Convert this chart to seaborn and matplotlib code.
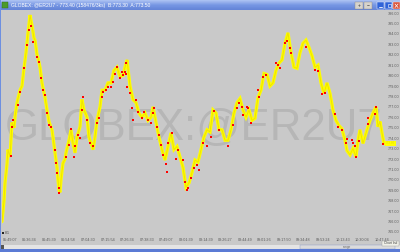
import matplotlib
matplotlib.use("Agg")
import matplotlib.pyplot as plt
import matplotlib.transforms as mtransforms
from matplotlib.patches import Rectangle
from matplotlib.colors import LinearSegmentedColormap
import numpy as np
import pandas as pd
import seaborn as sns

# ---------------- data ----------------
bar = [2, 4, 5, 7, 8, 10, 12, 14, 15, 17, 19, 20, 22, 24, 26, 28, 30, 32, 34, 35,
       37, 38, 40, 42, 44, 45, 47, 49, 50, 52, 53, 55, 57, 58, 59, 60, 61, 63, 65, 66,
       69, 71, 73, 75, 77, 80, 82, 84, 87, 89, 91, 93, 95, 97, 100, 102, 105, 108, 111, 114,
       117, 120, 123, 125, 127, 130, 133, 136, 139, 142, 145, 148, 151, 153, 156, 159, 162, 165, 168, 171,
       174, 177, 180, 183, 186, 189, 192, 195, 198, 201, 204, 207, 210, 213, 216, 219, 222, 225, 228, 231,
       234, 237, 240, 243, 246, 249, 252, 255, 258, 261, 264, 267, 270, 273, 276, 279, 282, 285, 288, 291,
       294, 297, 300, 303, 306, 309, 312, 315, 318, 321, 324, 327, 330, 333, 336, 339, 342, 345, 347, 350,
       353, 356, 358, 360, 363, 367, 370, 373, 376, 378, 380, 382, 384]
price = [766.0, 768.0, 769.7, 771.5, 772.9, 772.2, 775.5, 775.0, 776.0, 777.4, 778.2, 778.6, 779.0, 780.7, 782.2, 784.1, 785.8, 784.8, 783.6, 783.4,
         782.0, 781.7, 780.8, 779.3, 778.4, 777.9, 776.7, 775.6, 775.3, 774.8, 774.1, 772.6, 771.2, 770.0, 769.0, 768.8, 770.0, 771.6, 772.0, 772.6,
         773.8, 774.8, 773.5, 772.6, 774.1, 775.1, 777.7, 776.7, 776.0, 774.1, 773.5, 772.9, 774.1, 775.7, 777.0, 778.6, 778.6, 779.3, 779.3, 780.5,
         780.8, 779.9, 780.0, 780.8, 781.5, 779.0, 777.7, 777.4, 776.4, 776.0, 776.4, 775.7, 776.0, 777.0, 775.5, 774.1, 772.9, 771.9, 773.2, 774.5,
         772.9, 773.2, 772.2, 771.2, 769.3, 769.7, 770.7, 771.9, 771.7, 772.9, 774.1, 774.8, 774.6, 776.7, 776.4, 774.8, 774.8, 773.8, 773.8, 774.8,
         776.4, 777.4, 777.8, 776.7, 776.0, 776.7, 775.7, 775.9, 777.9, 778.6, 780.2, 780.1, 779.0, 779.3, 780.5, 781.2, 781.5, 783.1, 784.1, 782.2,
         780.8, 780.7, 782.2, 783.1, 783.4, 782.7, 781.9, 780.8, 781.0, 779.3, 778.3, 779.3, 778.3, 776.7, 775.7, 775.2, 774.9, 773.8, 772.8, 772.4,
         773.0, 772.2, 773.8, 774.8, 773.5, 774.8, 775.7, 776.4, 777.0, 775.1, 775.6, 774.5, 773.5]

red_bar = [11, 12, 13, 18, 20, 24, 27, 29, 31, 33, 37, 39, 41, 43, 45, 47, 49, 51, 55, 56,
           57, 59, 59, 66, 69, 71, 74, 75, 78, 80, 82, 83, 87, 90, 93, 97, 99, 102, 103, 106,
           108, 111, 113, 115, 117, 120, 123, 125, 127,
           122, 126, 126, 127, 130, 132, 133, 136, 138, 142, 144, 148, 151, 153, 154, 157, 159, 161, 163, 166,
           167, 168, 172, 176, 178, 183, 185, 187, 188, 191, 194, 197, 199, 203, 207, 211, 214, 219, 228, 233,
           237, 239, 243, 248,
           242, 247, 251, 258, 259, 263, 266, 276, 278, 280, 285, 287, 290, 291, 306, 315, 318, 322, 325, 335,
           338, 342, 346, 347, 352, 353, 355, 356, 359, 368, 368, 375, 376, 383]
red_price = [772.3, 775.1, 775.7, 777.2, 778.4, 780.7, 782.9, 784.4, 784.8, 783.2, 781.8, 781.3, 779.8, 778.6, 778.1, 776.4, 775.3, 775.1, 772.9, 771.6,
             770.7, 769.2, 768.7, 772.2, 773.3, 774.9, 772.2, 773.2, 774.3, 774.0, 776.7, 777.9, 775.7, 773.5, 773.2, 775.5, 775.9, 777.9, 778.4, 778.6,
             778.9, 778.9, 779.4, 780.2, 780.8, 779.8, 780.1, 780.3, 778.9,
             780.3, 780.2, 781.2, 778.9, 778.3, 776.9, 775.7, 777.7, 776.5, 775.9, 776.5, 775.7, 775.5, 776.4, 776.9, 775.1, 774.3, 773.3, 772.4, 771.5,
             770.8, 773.5, 774.5, 772.0, 772.9, 771.9, 769.8, 769.0, 769.2, 770.2, 771.1, 771.4, 770.9, 773.5, 773.2, 774.1, 776.6, 774.8, 773.2, 775.3,
             776.9, 777.4, 776.2, 776.9,
             777.0, 777.0, 775.5, 778.6, 777.9, 779.9, 780.1, 781.2, 781.0, 780.7, 783.1, 783.3, 782.6, 782.2, 782.7, 780.5, 780.4, 778.2, 778.3, 776.3,
             775.1, 774.8, 773.5, 773.9, 773.8, 773.5, 773.2, 772.2, 773.7, 775.9, 775.4, 776.3, 777.0, 773.4]

time_labels = ["05:49:07", "06:36:34", "06:45:39", "06:54:58", "07:04:30", "07:15:54", "07:26:34",
               "07:38:33", "07:49:07", "08:01:39", "08:14:39", "08:26:27", "08:44:49", "09:01:26",
               "09:17:50", "09:34:48", "09:53:24", "10:13:43", "10:30:04", "10:47:46"]
price_ticks = list(range(765, 787))
last_price = 773.40
title_text = "GLOBEX: @ER2U7 - 773.40 (158476/3ks)  B:773.30  A:773.50"
watermark = "GLOBEX:@ER2U7"

# ---------------- style ----------------
BG = "#c9c9c9"
W, H = 400, 252
sns.set_style("white")
plt.rcParams["font.family"] = ["Liberation Sans", "DejaVu Sans"]

fig = plt.figure(figsize=(4, 2.52), dpi=100, facecolor=BG)

# main price axes (pixel box: x 2..386, y 10..237)
ax = fig.add_axes([2 / W, (H - 237) / H, 384 / W, 227 / H])
ax.set_facecolor(BG)
for s in ax.spines.values():
    s.set_visible(False)

df = pd.DataFrame({"bar": bar, "price": price})
dr = pd.DataFrame({"bar": red_bar, "price": red_price})

# watermark behind data
ax.text(3 / 384, 0.48, watermark, transform=ax.transAxes, fontsize=31.5,
        color="#b6b6b6", ha="left", va="center", zorder=0)

sns.lineplot(data=df, x="bar", y="price", ax=ax, color="#ffff00", lw=2.3,
             solid_joinstyle="miter", zorder=2, legend=False)
sns.lineplot(data=df, x="bar", y="price", ax=ax, color="#efe200", lw=0.7,
             zorder=2.5, legend=False)
sns.scatterplot(data=dr, x="bar", y="price", ax=ax, color="#ff0000", marker="s",
                s=4.5, linewidth=0, zorder=3, legend=False)

ax.set_xlim(2, 386)
ax.set_ylim(764.52, 786.29)
ax.set_xlabel("")
ax.set_ylabel("")

tick_pos = [10 + 19.57 * i for i in range(len(time_labels))]
ax.set_xticks(tick_pos)
ax.set_xticklabels(time_labels)
ax.set_yticks(price_ticks)
ax.set_yticklabels([f"{v:.2f}" for v in price_ticks])
ax.yaxis.tick_right()
ax.tick_params(axis="both", length=0, labelsize=2.7, colors="#5a5a5a")
ax.tick_params(axis="y", pad=1.2)
ax.tick_params(axis="x", pad=1.0)

# last price marker (small yellow tag on the price scale)
trans = mtransforms.blended_transform_factory(ax.transAxes, ax.transData)
ax.text(1.0, last_price + 0.1, f"{last_price:.2f}", transform=trans, fontsize=2.2,
        color="#e8e000", ha="left", va="center", clip_on=False, zorder=5,
        bbox=dict(boxstyle="square,pad=0.25", fc="#ffff00", ec="none"))

# overlay decorations in pixel coordinates
ov = fig.add_axes([0, 0, 1, 1], zorder=10)
ov.set_xlim(0, W)
ov.set_ylim(H, 0)
ov.axis("off")
ov.patch.set_alpha(0)

# title bar gradient
grad = np.linspace(0, 1, 10)[:, None]
cmap = LinearSegmentedColormap.from_list("tb", ["#a9c0f2", "#7797e4", "#6585d8"])
ov.imshow(grad, extent=(0, W, 10, 0), aspect="auto", cmap=cmap, zorder=1)
ov.add_patch(Rectangle((2, 2), 6, 6, fc="#4c9a2a", ec="#2d6a18", lw=0.3, zorder=2))
ov.text(11, 5.2, title_text, fontsize=3.6, color="white", ha="left", va="center", zorder=3)
# window buttons
for x0 in (355, 364):
    ov.add_patch(Rectangle((x0, 2), 8, 7, fc="#d6d3cc", ec="#8a8a8a", lw=0.3, zorder=2))
ov.text(359, 5.5, "+", fontsize=3.5, ha="center", va="center", color="#333333", zorder=3)
ov.text(368, 5.5, "\u2212", fontsize=3.5, ha="center", va="center", color="#333333", zorder=3)
for x0, c in ((377, "#2f63d8"), (385, "#2f63d8"), (393, "#d8513a")):
    ov.add_patch(Rectangle((x0, 2), 7, 7, fc=c, ec="white", lw=0.3, zorder=2))
ov.plot([379, 382], [7, 7], color="white", lw=0.6, zorder=3)
ov.add_patch(Rectangle((387.5, 4), 3, 3, fc="none", ec="white", lw=0.4, zorder=3))
ov.plot([395, 398], [4, 7.5], color="white", lw=0.5, zorder=3)
ov.plot([395, 398], [7.5, 4], color="white", lw=0.5, zorder=3)

# left border
ov.add_patch(Rectangle((0, 0), 1.2, H, fc="#6d8fe0", ec="none", zorder=2))
# start marker and date
ov.add_patch(Rectangle((2, 231.5), 2, 2, fc="#222222", ec="none", zorder=2))
ov.text(5, 232.5, "8/1", fontsize=2.5, color="#404040", ha="left", va="center", zorder=3)

# bottom scrollbar
ov.add_patch(Rectangle((0, 244.5), W, 4.5, fc="#e4e4e4", ec="none", zorder=1))
ov.add_patch(Rectangle((300, 244.8), 95, 4, fc="#dcdcdc", ec="#8898c8", lw=0.3, zorder=2))
ov.text(347, 246.8, "range", fontsize=2.3, color="#666666", ha="center", va="center", zorder=3)
ov.add_patch(Rectangle((1, 245), 3, 3.5, fc="#555555", ec="none", zorder=2))
ov.add_patch(Rectangle((0, 249), W, 3, fc="#5b7bd5", ec="none", zorder=2))
ov.add_patch(Rectangle((382, 241), 17, 5, fc="#f0f0e8", ec="#9a9a9a", lw=0.3, zorder=4))
ov.text(390.5, 243.5, "Chart Ind", fontsize=2.3, color="#444444", ha="center", va="center", zorder=5)

fig.savefig("out.png", dpi=100, facecolor=BG)
